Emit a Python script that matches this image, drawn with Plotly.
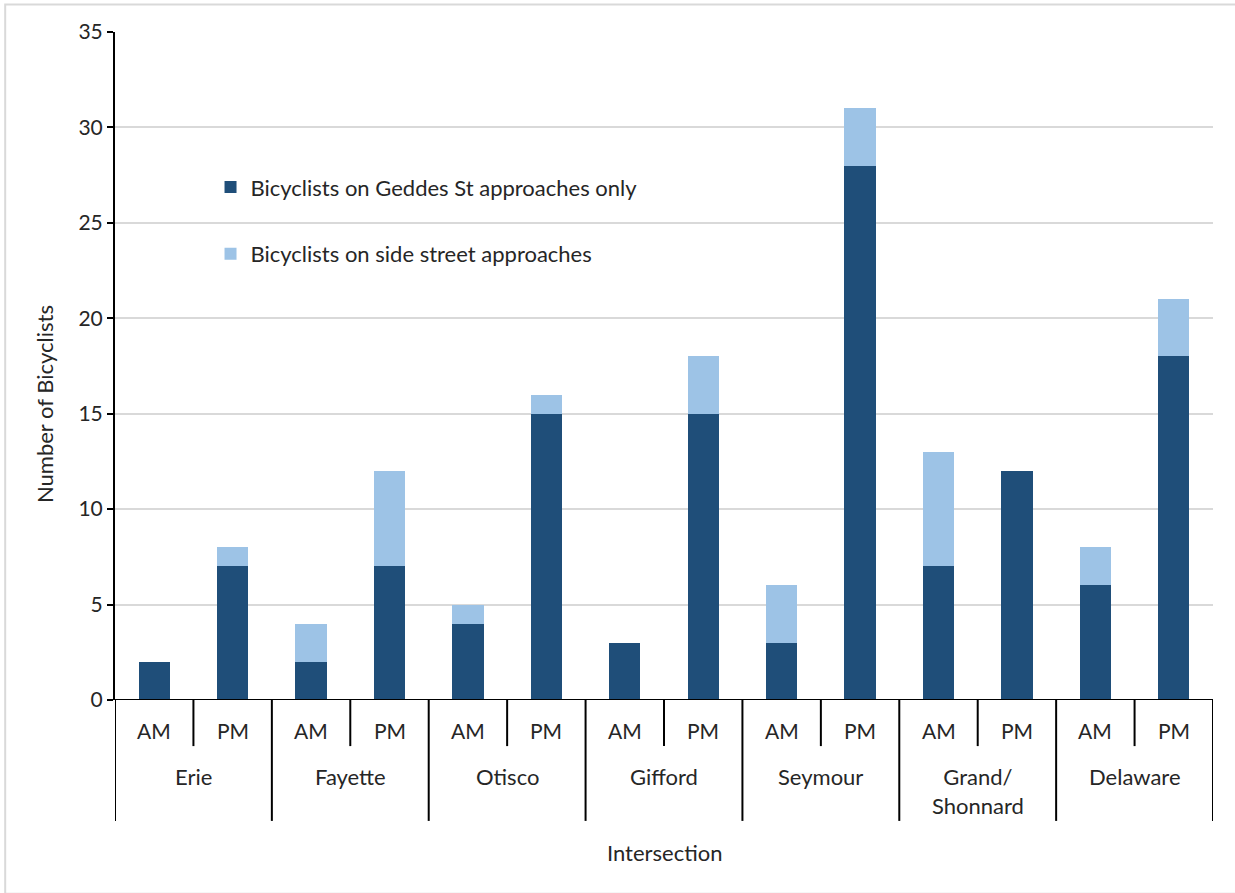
import plotly.graph_objects as go

# Bicyclist counts by intersection and peak period
intersections = ["Erie", "Fayette", "Otisco", "Gifford", "Seymour", "Grand/<br>Shonnard", "Delaware"]
periods = ["AM", "PM"]
geddes_only = [2, 7, 2, 7, 4, 15, 3, 15, 3, 28, 7, 12, 6, 18]
side_street = [0, 1, 2, 5, 1, 1, 0, 3, 3, 3, 6, 0, 2, 3]
y_ticks = [0, 5, 10, 15, 20, 25, 30, 35]

n_int = len(intersections)
n_per = len(periods)
xpos = list(range(n_int * n_per))

DARK = "#1f4e79"
LIGHT = "#9dc3e6"
FONT = "Lato, 'Open Sans', sans-serif"
TXT = "#262626"

fig = go.Figure()
fig.add_trace(go.Bar(
    x=xpos, y=geddes_only, name="Bicyclists on Geddes St approaches only",
    marker=dict(color=DARK, line=dict(width=0)), legendgroup="a",
))
fig.add_trace(go.Bar(
    x=xpos, y=side_street, name="Bicyclists on side street approaches",
    marker=dict(color=LIGHT, line=dict(width=0)), legendgroup="b",
))

shapes = []
annotations = []
lo, hi = -0.5, n_int * n_per - 0.5

# period labels and short dividers
for i in xpos:
    annotations.append(dict(
        x=i, y=-0.046, xref="x", yref="paper", text=periods[i % n_per],
        showarrow=False, font=dict(size=21, color=TXT, family=FONT), yanchor="middle",
    ))
    if i % n_per == 1:
        shapes.append(dict(type="line", xref="x", yref="paper", x0=i - 0.5, x1=i - 0.5,
                           y0=0, y1=-0.069, line=dict(color="black", width=2)))

# intersection labels and tall dividers
for g, name in enumerate(intersections):
    center = g * n_per + (n_per - 1) / 2
    annotations.append(dict(
        x=center, y=-0.092, xref="x", yref="paper", text=name,
        showarrow=False, font=dict(size=22, color=TXT, family=FONT), yanchor="top",
        align="center",
    ))
for g in range(n_int + 1):
    xb = g * n_per - 0.5
    shapes.append(dict(type="line", xref="x", yref="paper", x0=xb, x1=xb,
                       y0=0, y1=-0.181, line=dict(color="black", width=2)))

# axis titles
annotations.append(dict(
    x=0.5, y=-0.229, xref="paper", yref="paper", text="Intersection",
    showarrow=False, font=dict(size=22, color=TXT, family=FONT), yanchor="middle",
))
annotations.append(dict(
    x=-0.0647, y=0.443, xref="paper", yref="paper", text="Number of Bicyclists",
    showarrow=False, textangle=-90, font=dict(size=22, color=TXT, family=FONT),
    xanchor="center", yanchor="middle",
))

# light frame around the chart area
shapes.append(dict(type="rect", xref="paper", yref="paper", x0=-0.10, x1=1.05,
                   y0=-0.29, y1=1.041, line=dict(color="#d9d9d9", width=2), layer="below"))

fig.update_layout(
    width=1235, height=893,
    margin=dict(l=115, r=22, t=32, b=193),
    paper_bgcolor="white", plot_bgcolor="white",
    barmode="stack", bargap=0.6,
    font=dict(family=FONT, size=22, color=TXT),
    showlegend=True,
    legend=dict(
        x=0.087, y=0.799, xanchor="left", yanchor="top",
        traceorder="grouped", tracegroupgap=35,
        font=dict(size=22, color=TXT, family=FONT),
        bgcolor="rgba(0,0,0,0)",
    ),
    xaxis=dict(
        range=[lo, hi], showticklabels=False, ticks="", showgrid=False,
        zeroline=False, showline=False,
    ),
    yaxis=dict(
        range=[0, 35], tickvals=y_ticks, showgrid=True, gridcolor="#d9d9d9", gridwidth=2,
        zeroline=False, showline=True, linecolor="black", linewidth=2,
        ticks="outside", ticklen=6, tickcolor="black", tickwidth=2,
        tickfont=dict(size=21, color=TXT, family=FONT),
    ),
    shapes=shapes + [dict(type="line", xref="paper", yref="y", x0=0, x1=1, y0=0, y1=0,
                          line=dict(color="black", width=2))],
    annotations=annotations,
)

fig.write_html("out.html")
